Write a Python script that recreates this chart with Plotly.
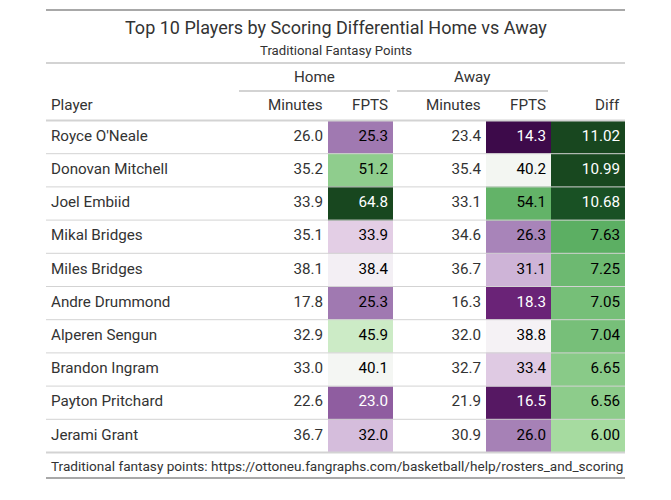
import plotly.graph_objects as go

# ---------------- data ----------------
players = ["Royce O'Neale", "Donovan Mitchell", "Joel Embiid", "Mikal Bridges",
           "Miles Bridges", "Andre Drummond", "Alperen Sengun", "Brandon Ingram",
           "Payton Pritchard", "Jerami Grant"]
home_min = [26.0, 35.2, 33.9, 35.1, 38.1, 17.8, 32.9, 33.0, 22.6, 36.7]
home_fpts = [25.3, 51.2, 64.8, 33.9, 38.4, 25.3, 45.9, 40.1, 23.0, 32.0]
away_min = [23.4, 35.4, 33.1, 34.6, 36.7, 16.3, 32.0, 32.7, 21.9, 30.9]
away_fpts = [14.3, 40.2, 54.1, 26.3, 31.1, 18.3, 38.8, 33.4, 16.5, 26.0]
diff = [11.02, 10.99, 10.68, 7.63, 7.25, 7.05, 7.04, 6.65, 6.56, 6.00]

title = "Top 10 Players by Scoring Differential Home vs Away"
subtitle = "Traditional Fantasy Points"
footnote = "Traditional fantasy points: https://ottoneu.fangraphs.com/basketball/help/rosters_and_scoring"
col_labels = ["Player", "Minutes", "FPTS", "Minutes", "FPTS", "Diff"]
spanners = ["Home", "Away"]

# ---------------- layout constants (page pixels) ----------------
W, H = 671, 500
OFF = 8  # page body margin
col_edges = [46, 236, 328, 393, 486, 551, 625]
body_top = 120.5
row_h = 33.2
pad = 5
apad = 2  # annotation inner padding compensation
txt = "#333333"
font_family = "Roboto"
body_size = 15.2

# PRGn diverging palette (ColorBrewer, 11 classes)
prgn = ["#3d0a4a", "#762a83", "#9970ab", "#c2a5cf", "#e7d4e8", "#f7f7f7",
        "#d9f0d3", "#a6dba0", "#5aae61", "#1b7837", "#18471f"]
prgn_scale = [[i / (len(prgn) - 1), c] for i, c in enumerate(prgn)]

n = len(players)
row_edges = [body_top + i * row_h for i in range(n + 1)]
row_mid = [body_top + (i + 0.5) * row_h for i in range(n)]

fpts_min = min(home_fpts + away_fpts)
fpts_max = max(home_fpts + away_fpts)
diff_lo, diff_hi = -5.71, max(diff)


def text_colors(vals, lo, hi):
    out = []
    for v in vals:
        t = (v - lo) / (hi - lo)
        out.append("white" if (t < 0.2 or t > 0.85) else "black")
    return out


fig = go.Figure()

# colored FPTS cells (home / gap / away) share one diverging scale
z_fpts = [[h, None, a] for h, a in zip(home_fpts, away_fpts)]
fig.add_trace(go.Heatmap(
    z=z_fpts, x=[col_edges[2], col_edges[3], col_edges[4], col_edges[5]], y=row_edges,
    colorscale=prgn_scale, zmin=fpts_min, zmax=fpts_max, showscale=False,
    hoverinfo="skip"))

# Diff cells
fig.add_trace(go.Heatmap(
    z=[[d] for d in diff], x=[col_edges[5], col_edges[6]], y=row_edges,
    colorscale=prgn_scale, zmin=diff_lo, zmax=diff_hi, showscale=False,
    hoverinfo="skip"))

# text columns
fig.add_trace(go.Scatter(
    x=[col_edges[0] + pad] * n, y=row_mid, mode="text", text=players,
    textposition="middle right", textfont=dict(family=font_family, size=body_size, color=txt),
    hoverinfo="skip"))


def num_col(vals, right, fmt, colors):
    fig.add_trace(go.Scatter(
        x=[right - pad] * n, y=row_mid, mode="text",
        text=[fmt.format(v) for v in vals], textposition="middle left",
        textfont=dict(family=font_family, size=body_size, color=colors),
        hoverinfo="skip"))


num_col(home_min, col_edges[2], "{:.1f}", txt)
num_col(home_fpts, col_edges[3], "{:.1f}", text_colors(home_fpts, fpts_min, fpts_max))
num_col(away_min, col_edges[4], "{:.1f}", txt)
num_col(away_fpts, col_edges[5], "{:.1f}", text_colors(away_fpts, fpts_min, fpts_max))
num_col(diff, col_edges[6], "{:.2f}", text_colors(diff, diff_lo, diff_hi))

shapes = []


def hline(y, x0, x1, color, width):
    shapes.append(dict(type="line", xref="x", yref="y", x0=x0, x1=x1, y0=y, y1=y,
                       line=dict(color=color, width=width), layer="above"))


L, R = col_edges[0], col_edges[-1]
hline(10, L, R, "#A8A8A8", 2)          # table top
hline(63, L, R, "#D3D3D3", 2)          # heading bottom
hline(91, col_edges[1] + 3, col_edges[3] - 3, "#D3D3D3", 2)   # Home spanner
hline(91, col_edges[3] + 4, col_edges[5] - 3, "#D3D3D3", 2)   # Away spanner
hline(row_edges[0], L, R, "#D3D3D3", 2)  # column labels bottom
for y in row_edges[1:-1]:
    hline(y, L, R, "#D3D3D3", 1)
hline(row_edges[-1], L, R, "#D3D3D3", 2)
hline(478, L, R, "#A8A8A8", 2)          # table bottom

ann = []
ann.append(dict(x=(L + R) / 2, y=27, text=title, showarrow=False, xanchor="center", yanchor="middle",
                font=dict(family=font_family, size=18, color=txt)))
ann.append(dict(x=(L + R) / 2, y=50, text=subtitle, showarrow=False, xanchor="center", yanchor="middle",
                font=dict(family=font_family, size=13.2, color=txt)))
ann.append(dict(x=(col_edges[1] + col_edges[3]) / 2, y=77, text=spanners[0], showarrow=False,
                xanchor="center", yanchor="middle", font=dict(family=font_family, size=body_size, color=txt)))
ann.append(dict(x=(col_edges[3] + col_edges[5]) / 2, y=77, text=spanners[1], showarrow=False,
                xanchor="center", yanchor="middle", font=dict(family=font_family, size=body_size, color=txt)))
ann.append(dict(x=col_edges[0] + pad - apad, y=105, text=col_labels[0], showarrow=False,
                xanchor="left", yanchor="middle", font=dict(family=font_family, size=body_size, color=txt)))
for j in range(1, len(col_labels)):
    ann.append(dict(x=col_edges[j + 1] - pad + apad, y=105, text=col_labels[j], showarrow=False,
                    xanchor="right", yanchor="middle", font=dict(family=font_family, size=body_size, color=txt)))
ann.append(dict(x=col_edges[0] + pad - apad, y=466, text=footnote, showarrow=False,
                xanchor="left", yanchor="middle", font=dict(family=font_family, size=13.6, color=txt)))
for a in ann:
    a["xref"] = "x"
    a["yref"] = "y"

fig.update_layout(
    width=W, height=H, margin=dict(l=0, r=0, t=0, b=0),
    paper_bgcolor="white", plot_bgcolor="white", showlegend=False,
    xaxis=dict(range=[OFF, W + OFF], visible=False, fixedrange=True),
    yaxis=dict(range=[H + OFF, OFF], visible=False, fixedrange=True),
    shapes=shapes, annotations=ann,
)

fig.write_html("out.html")
